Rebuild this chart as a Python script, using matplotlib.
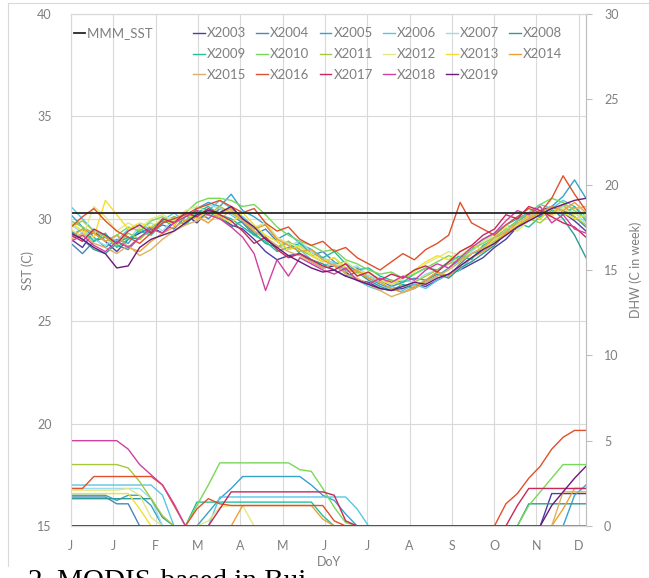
import matplotlib.pyplot as plt
from matplotlib.lines import Line2D
import numpy as np

plt.rcParams['font.family'] = ['Lato', 'DejaVu Sans']

months = ['J', 'J', 'F', 'M', 'A', 'M', 'J', 'J', 'A', 'S', 'O', 'N', 'D']
years = ['X2003', 'X2004', 'X2005', 'X2006', 'X2007', 'X2008', 'X2009', 'X2010', 'X2011',
         'X2012', 'X2013', 'X2014', 'X2015', 'X2016', 'X2017', 'X2018', 'X2019']
colors = ['#4a3fa0', '#4a86b8', '#35a3c9', '#58c6e6', '#9cdcef', '#2f9a96', '#20c0a0', '#77d85a',
          '#a8c83c', '#e6e682', '#f2e030', '#f0a030', '#e0b060', '#e0502a', '#c82858', '#d040a0', '#6a1a78']

mmm_sst = 30.3

# weekly SST (C), 46 composites per year
sst = {
    'X2003': [29.0, 28.6, 29.4, 28.9, 28.4, 29.0, 29.3, 29.6, 29.3, 29.9, 30.2, 29.8, 30.4, 30.1, 29.7, 29.5, 29.0, 28.4, 28.0, 28.2, 28.3, 27.9, 27.6, 27.7, 27.4, 27.0, 26.9, 26.6, 26.5, 26.6, 26.8, 26.7, 27.0, 27.3, 27.5, 27.8, 28.1, 28.6, 29.0, 29.6, 30.0, 30.4, 30.6, 30.3, 29.9, 29.4],
    'X2004': [28.8, 28.3, 28.9, 29.1, 28.7, 28.5, 29.1, 29.4, 29.7, 29.5, 30.1, 30.4, 30.0, 30.5, 30.2, 29.8, 29.2, 29.5, 28.9, 28.5, 28.7, 28.2, 28.4, 27.9, 27.5, 27.6, 27.2, 27.0, 26.7, 26.9, 27.1, 27.0, 27.4, 27.2, 27.8, 28.3, 28.5, 29.1, 29.3, 29.9, 30.2, 30.0, 30.6, 30.4, 30.1, 29.6],
    'X2005': [30.2, 29.6, 29.1, 28.6, 29.0, 28.8, 29.5, 29.3, 29.8, 30.1, 29.9, 30.5, 30.8, 30.6, 31.2, 30.4, 30.1, 29.7, 29.0, 29.3, 28.8, 28.5, 28.1, 27.8, 27.9, 27.4, 27.1, 26.8, 26.6, 26.4, 26.6, 26.9, 27.2, 27.6, 28.0, 28.5, 29.0, 29.3, 29.7, 30.0, 30.3, 30.1, 30.6, 31.1, 31.9, 31.0],
    'X2006': [30.6, 30.0, 29.4, 29.2, 28.9, 29.5, 29.7, 29.5, 29.9, 30.3, 29.8, 30.6, 30.4, 30.9, 30.5, 30.1, 29.6, 29.1, 28.6, 28.8, 28.5, 28.0, 27.7, 27.9, 27.3, 27.0, 26.7, 26.5, 26.7, 26.5, 26.8, 26.6, 27.0, 27.3, 27.5, 28.1, 28.4, 28.8, 29.4, 29.9, 30.3, 30.7, 30.5, 30.9, 30.6, 30.1],
    'X2007': [29.7, 29.3, 29.0, 28.7, 29.2, 29.0, 29.6, 29.8, 29.4, 30.0, 30.3, 30.1, 30.7, 30.5, 30.2, 29.9, 29.5, 29.8, 29.1, 28.7, 28.9, 28.4, 28.1, 27.8, 27.6, 27.7, 27.2, 27.0, 26.8, 27.0, 26.9, 27.3, 27.5, 27.8, 28.2, 28.4, 28.9, 29.2, 29.7, 29.5, 30.0, 30.4, 30.2, 30.6, 30.3, 29.8],
    'X2008': [29.4, 29.0, 28.5, 28.3, 28.8, 29.1, 29.0, 29.6, 29.9, 29.7, 30.2, 30.0, 30.3, 30.1, 29.6, 29.9, 29.3, 28.8, 28.6, 28.9, 28.3, 28.0, 27.8, 27.5, 27.2, 27.4, 27.0, 26.7, 26.5, 26.8, 26.6, 27.0, 27.3, 27.1, 27.6, 27.9, 28.3, 28.7, 29.3, 29.6, 29.9, 30.2, 30.5, 30.0, 29.2, 28.1],
    'X2009': [29.2, 29.5, 28.9, 29.3, 28.6, 29.0, 29.4, 29.2, 29.8, 30.0, 29.7, 30.3, 30.6, 30.2, 30.0, 29.6, 29.2, 28.9, 28.4, 28.6, 28.8, 28.3, 28.1, 28.4, 27.8, 27.5, 27.6, 27.2, 27.0, 26.9, 27.3, 27.6, 27.5, 27.9, 28.2, 28.0, 28.7, 29.0, 29.3, 29.8, 29.6, 30.1, 30.4, 30.2, 30.6, 29.9],
    'X2010': [29.9, 29.6, 29.3, 28.9, 29.2, 29.6, 29.4, 29.9, 30.1, 29.8, 30.3, 30.8, 31.0, 31.0, 30.9, 30.6, 30.7, 30.2, 29.6, 29.2, 28.9, 28.7, 28.4, 28.5, 28.0, 27.8, 27.5, 27.3, 27.4, 27.1, 27.3, 27.6, 27.9, 28.2, 28.0, 28.5, 28.8, 29.1, 29.5, 29.9, 30.3, 30.7, 31.0, 30.8, 30.4, 30.0],
    'X2011': [29.6, 29.9, 29.4, 29.1, 28.7, 29.3, 29.0, 29.5, 29.8, 30.1, 29.9, 30.4, 30.2, 30.6, 30.3, 29.9, 29.4, 29.0, 28.6, 28.9, 28.5, 28.2, 27.9, 28.1, 27.6, 27.4, 27.1, 26.9, 27.0, 26.7, 26.9, 27.2, 27.5, 27.8, 28.0, 28.3, 28.6, 28.9, 29.2, 29.7, 30.0, 29.8, 30.3, 30.7, 30.1, 29.7],
    'X2012': [29.5, 29.1, 30.6, 30.1, 29.4, 29.8, 29.5, 30.0, 30.2, 29.9, 30.4, 30.6, 30.3, 30.2, 30.5, 30.0, 29.6, 29.8, 29.1, 28.8, 28.6, 28.3, 28.0, 27.7, 27.9, 27.5, 27.3, 27.1, 26.9, 27.2, 27.4, 27.8, 28.1, 28.4, 28.2, 28.6, 28.9, 29.2, 29.6, 29.4, 29.9, 30.3, 30.1, 30.5, 30.2, 30.4],
    'X2013': [29.8, 29.4, 29.1, 30.9, 30.2, 29.5, 29.8, 29.6, 30.0, 29.7, 30.2, 30.0, 30.4, 30.1, 29.8, 30.3, 29.7, 29.2, 28.9, 28.5, 28.7, 28.2, 27.9, 28.1, 27.6, 27.3, 27.4, 27.0, 26.8, 27.1, 27.5, 27.9, 28.2, 28.0, 28.4, 28.7, 28.5, 29.0, 29.3, 29.7, 30.2, 30.0, 30.5, 30.3, 30.0, 30.2],
    'X2014': [29.1, 29.5, 29.3, 28.9, 29.2, 28.6, 28.4, 28.9, 29.3, 29.6, 29.9, 30.1, 29.8, 30.3, 30.5, 30.0, 29.5, 29.7, 29.0, 28.7, 28.4, 28.5, 28.0, 27.7, 27.4, 27.5, 27.1, 26.9, 26.6, 26.4, 26.7, 27.0, 27.4, 27.2, 27.7, 28.1, 28.4, 28.8, 29.3, 29.6, 30.0, 30.3, 30.6, 30.4, 30.8, 30.3],
    'X2015': [29.0, 29.3, 28.8, 28.6, 28.3, 28.7, 28.2, 28.5, 29.0, 29.4, 29.7, 29.9, 30.2, 30.0, 30.4, 29.9, 29.4, 29.1, 28.7, 28.4, 28.2, 27.9, 27.6, 27.8, 27.3, 27.1, 26.8, 26.5, 26.2, 26.4, 26.6, 26.9, 27.2, 27.5, 27.9, 28.3, 28.6, 29.1, 29.4, 29.8, 30.1, 30.4, 30.2, 30.7, 30.5, 30.6],
    'X2016': [29.6, 30.1, 30.5, 29.9, 29.4, 29.1, 28.8, 29.3, 29.8, 30.0, 30.2, 30.5, 30.7, 30.9, 30.6, 30.3, 30.5, 29.8, 29.4, 29.6, 29.0, 28.7, 28.9, 28.4, 28.6, 28.1, 27.8, 27.5, 27.9, 28.3, 28.0, 28.5, 28.8, 29.2, 30.8, 29.8, 29.5, 29.2, 29.7, 30.1, 30.5, 30.3, 31.0, 32.1, 31.2, 30.4],
    'X2017': [29.2, 28.9, 29.5, 29.2, 28.8, 29.4, 29.7, 29.3, 30.0, 29.8, 30.3, 30.1, 30.5, 30.2, 29.9, 29.4, 28.8, 29.1, 28.5, 28.1, 28.3, 28.0, 27.7, 27.5, 27.8, 27.2, 27.4, 27.0, 27.3, 27.1, 27.5, 27.7, 27.4, 27.9, 28.4, 28.7, 29.2, 29.5, 30.2, 30.0, 30.6, 30.4, 30.1, 29.8, 29.6, 29.1],
    'X2018': [28.9, 29.2, 28.7, 28.4, 28.9, 28.6, 29.1, 29.5, 29.3, 29.8, 30.1, 30.4, 30.2, 30.0, 29.6, 29.1, 28.3, 26.5, 28.0, 27.2, 28.1, 27.8, 27.5, 27.3, 27.6, 27.0, 26.8, 27.1, 26.9, 27.2, 27.0, 27.5, 27.8, 27.6, 28.1, 28.6, 29.0, 29.3, 29.9, 30.4, 30.2, 30.6, 29.8, 30.2, 29.5, 29.3],
    'X2019': [29.3, 29.0, 28.6, 28.3, 27.6, 27.7, 28.6, 29.0, 29.2, 29.4, 29.8, 30.2, 30.4, 30.3, 30.6, 30.0, 29.6, 29.0, 28.6, 28.2, 27.9, 27.6, 27.4, 27.5, 27.2, 27.0, 26.8, 26.6, 26.5, 26.7, 26.9, 26.8, 27.1, 27.3, 27.7, 28.1, 28.5, 28.8, 29.2, 29.6, 29.9, 30.2, 30.5, 30.7, 30.9, 31.0],
}

# degree heating weeks (C-weeks), right axis
dhw = {
    'X2003': [0, 0, 0, 0, 0, 0, 0, 0, 0, 0, 0, 0, 0, 0, 0, 0, 0, 0, 0, 0, 0, 0, 0, 0, 0, 0, 0, 0, 0, 0, 0, 0, 0, 0, 0, 0, 0, 0, 0, 0, 0, 0, 1.9, 1.9, 1.9, 1.9],
    'X2004': [1.7, 1.7, 1.7, 1.7, 1.3, 1.3, 0, 0, 0, 0, 0, 0, 0, 0, 0, 0, 0, 0, 0, 0, 0, 0, 0, 0, 0, 0, 0, 0, 0, 0, 0, 0, 0, 0, 0, 0, 0, 0, 0, 0, 0, 0, 0, 0, 0, 0],
    'X2005': [1.8, 1.8, 1.8, 1.8, 1.5, 1.8, 1.8, 1.2, 0, 0, 0, 0, 0.8, 1.6, 2.2, 2.9, 2.9, 2.9, 2.9, 2.9, 2.9, 2.4, 1.8, 1.5, 0.7, 0, 0, 0, 0, 0, 0, 0, 0, 0, 0, 0, 0, 0, 0, 0, 0, 0, 0, 0, 1.8, 2.4],
    'X2006': [2.4, 2.4, 2.4, 2.4, 2.4, 2.4, 2.4, 2.4, 1.8, 0, 0, 0, 0, 1.7, 1.7, 1.7, 1.7, 1.7, 1.7, 1.7, 1.7, 1.7, 1.7, 1.7, 1.7, 1.0, 0, 0, 0, 0, 0, 0, 0, 0, 0, 0, 0, 0, 0, 0, 0, 0, 0, 0, 0, 0],
    'X2007': [2.2, 2.2, 2.2, 2.2, 2.2, 2.2, 2.2, 1.6, 0, 0, 0, 0, 0, 0, 0, 0, 0, 0, 0, 0, 0, 0, 0, 0, 0, 0, 0, 0, 0, 0, 0, 0, 0, 0, 0, 0, 0, 0, 0, 0, 0, 0, 0, 0, 0, 0],
    'X2008': [1.6, 1.6, 1.6, 1.6, 1.6, 1.6, 1.6, 1.6, 0.5, 0, 0, 0, 0, 0, 0, 0, 0, 0, 0, 0, 0, 0, 0, 0, 0, 0, 0, 0, 0, 0, 0, 0, 0, 0, 0, 0, 0, 0, 0, 0, 1.3, 1.3, 1.3, 1.3, 1.3, 1.3],
    'X2009': [0, 0, 0, 0, 0, 0, 0, 0, 0, 0, 0, 1.4, 1.4, 1.4, 1.4, 1.4, 1.4, 1.4, 1.4, 1.4, 1.4, 1.4, 0.6, 0, 0, 0, 0, 0, 0, 0, 0, 0, 0, 0, 0, 0, 0, 0, 0, 0, 0, 0, 0, 0, 0, 0],
    'X2010': [0, 0, 0, 0, 0, 0, 0, 0, 0, 0, 0, 1.2, 2.4, 3.7, 3.7, 3.7, 3.7, 3.7, 3.7, 3.7, 3.3, 3.2, 2.2, 1.1, 0.2, 0, 0, 0, 0, 0, 0, 0, 0, 0, 0, 0, 0, 0, 0, 0, 1.2, 2.0, 2.8, 3.6, 3.6, 3.6],
    'X2011': [3.6, 3.6, 3.6, 3.6, 3.6, 3.4, 2.6, 1.6, 0.6, 0, 0, 0, 0, 0, 0, 0, 0, 0, 0, 0, 0, 0, 0, 0, 0, 0, 0, 0, 0, 0, 0, 0, 0, 0, 0, 0, 0, 0, 0, 0, 0, 0, 0, 0, 0, 0],
    'X2012': [2.1, 2.1, 2.1, 2.1, 2.1, 2.2, 1.8, 0.5, 0, 0, 0, 0, 0.3, 1.1, 1.2, 1.2, 0, 0, 0, 0, 0, 0, 0, 0, 0, 0, 0, 0, 0, 0, 0, 0, 0, 0, 0, 0, 0, 0, 0, 0, 0, 0, 0, 0, 0, 0],
    'X2013': [1.9, 1.9, 1.9, 1.9, 1.9, 1.9, 1.0, 0, 0, 0, 0, 0, 0, 0, 0, 0, 0, 0, 0, 0, 0, 0, 0, 0, 0, 0, 0, 0, 0, 0, 0, 0, 0, 0, 0, 0, 0, 0, 0, 0, 0, 0, 0, 0, 0, 0],
    'X2014': [0, 0, 0, 0, 0, 0, 0, 0, 0, 0, 0, 0, 0, 0, 0, 1.2, 1.2, 1.2, 1.2, 1.2, 1.2, 1.2, 0.4, 0, 0, 0, 0, 0, 0, 0, 0, 0, 0, 0, 0, 0, 0, 0, 0, 0, 0, 0, 0, 1.0, 2.2, 2.2],
    'X2015': [0, 0, 0, 0, 0, 0, 0, 0, 0, 0, 0, 0, 0, 0, 0, 0, 0, 0, 0, 0, 0, 0, 0, 0, 0, 0, 0, 0, 0, 0, 0, 0, 0, 0, 0, 0, 0, 0, 0, 0, 0, 0, 0, 2.0, 2.0, 2.0],
    'X2016': [2.2, 2.2, 2.9, 2.9, 2.9, 2.9, 2.9, 2.9, 2.4, 1.2, 0, 1.0, 1.6, 1.3, 1.2, 1.2, 1.2, 1.2, 1.2, 1.2, 1.2, 1.2, 1.2, 0.3, 0, 0, 0, 0, 0, 0, 0, 0, 0, 0, 0, 0, 0, 0, 1.3, 1.9, 2.8, 3.5, 4.5, 5.2, 5.6, 5.6],
    'X2017': [0, 0, 0, 0, 0, 0, 0, 0, 0, 0, 0, 0, 0, 1.0, 2.0, 2.0, 2.0, 2.0, 2.0, 2.0, 2.0, 2.0, 2.0, 1.8, 0.3, 0, 0, 0, 0, 0, 0, 0, 0, 0, 0, 0, 0, 0, 0, 1.2, 2.2, 2.2, 2.2, 2.2, 2.2, 2.2],
    'X2018': [5.0, 5.0, 5.0, 5.0, 5.0, 4.5, 3.6, 3.0, 2.4, 1.3, 0, 0, 0, 0, 0, 0, 0, 0, 0, 0, 0, 0, 0, 0, 0, 0, 0, 0, 0, 0, 0, 0, 0, 0, 0, 0, 0, 0, 0, 0, 0, 0, 0, 0, 0, 0],
    'X2019': [0, 0, 0, 0, 0, 0, 0, 0, 0, 0, 0, 0, 0, 0, 0, 0, 0, 0, 0, 0, 0, 0, 0, 0, 0, 0, 0, 0, 0, 0, 0, 0, 0, 0, 0, 0, 0, 0, 0, 0, 0, 0, 1.2, 2.0, 2.8, 3.5],
}

grey = '#7f7f7f'
grid_c = '#d9d9d9'

fig = plt.figure(figsize=(6.49, 5.78), dpi=100)
ax = fig.add_axes([71 / 649, 1 - 526 / 578, 515 / 649, 512 / 578])
ax2 = ax.twinx()

n = len(sst['X2003'])
x = np.linspace(0, 12.17, n)

mmm, = ax.plot(x, [mmm_sst] * n, color='#262626', lw=1.3, label='MMM_SST', zorder=5)
lines = []
for yr, c in zip(years, colors):
    l, = ax.plot(x, sst[yr], color=c, lw=1.0, label=yr)
    lines.append(l)
    ax2.plot(x, dhw[yr], color=c, lw=1.0)

ax.set_xlim(0, 12.17)
ax.set_ylim(15, 40)
ax2.set_ylim(0, 30)
ax.set_xticks(range(13))
ax.set_xticklabels(months)
ax.set_yticks([15, 20, 25, 30, 35, 40])
ax2.set_yticks([0, 5, 10, 15, 20, 25, 30])

ax.grid(True, color=grid_c, lw=0.8)
ax.set_axisbelow(True)
for a in (ax, ax2):
    for s in a.spines.values():
        s.set_color(grid_c)
ax2.spines['right'].set_color('#bfbfbf')

ax.tick_params(axis='both', length=0, labelsize=9, labelcolor=grey)
ax.tick_params(axis='x', pad=10)
ax.tick_params(axis='y', pad=14)
ax2.tick_params(axis='y', length=4, color='#bfbfbf', labelsize=9, labelcolor=grey, pad=9)

ax.set_xlabel('DoY', fontsize=9, color=grey, labelpad=3)
ax.set_ylabel('SST (C)', fontsize=9, color=grey, labelpad=2)
ax2.set_ylabel('DHW (C in week)', fontsize=9, color=grey, labelpad=8)

# legend laid out like the Excel one: MMM_SST alone in the first column
blank = Line2D([], [], color='none')
handles = [mmm, blank, blank]
labels = ['MMM_SST' + '\u00a0' * 9, ' ', ' ']
for col in range(6):
    for row in range(3):
        k = row * 6 + col
        if k < len(lines):
            handles.append(lines[k])
            labels.append(years[k])
        else:
            handles.append(blank)
            labels.append(' ')
ax.legend(handles, labels, ncol=7, loc='upper left', bbox_to_anchor=(0.005, 0.974),
          frameon=False, fontsize=9.5, labelcolor=grey, handlelength=0.9,
          handletextpad=0.15, columnspacing=0.75, labelspacing=0.67, borderpad=0,
          borderaxespad=0)

# screenshot frame and cut-off caption
fig.add_artist(Line2D([8 / 649, 8 / 649], [1 - 3 / 578, 1 - 566 / 578], color=grid_c, lw=0.8))
fig.add_artist(Line2D([8 / 649, 1], [1 - 3 / 578, 1 - 3 / 578], color=grid_c, lw=0.8))
fig.text(28 / 649, 1 - 569 / 578, '2. MODIS-based in Bui', family='Liberation Serif',
         fontsize=21, va='top', ha='left', color='black')

fig.savefig('out.png', dpi=100)
